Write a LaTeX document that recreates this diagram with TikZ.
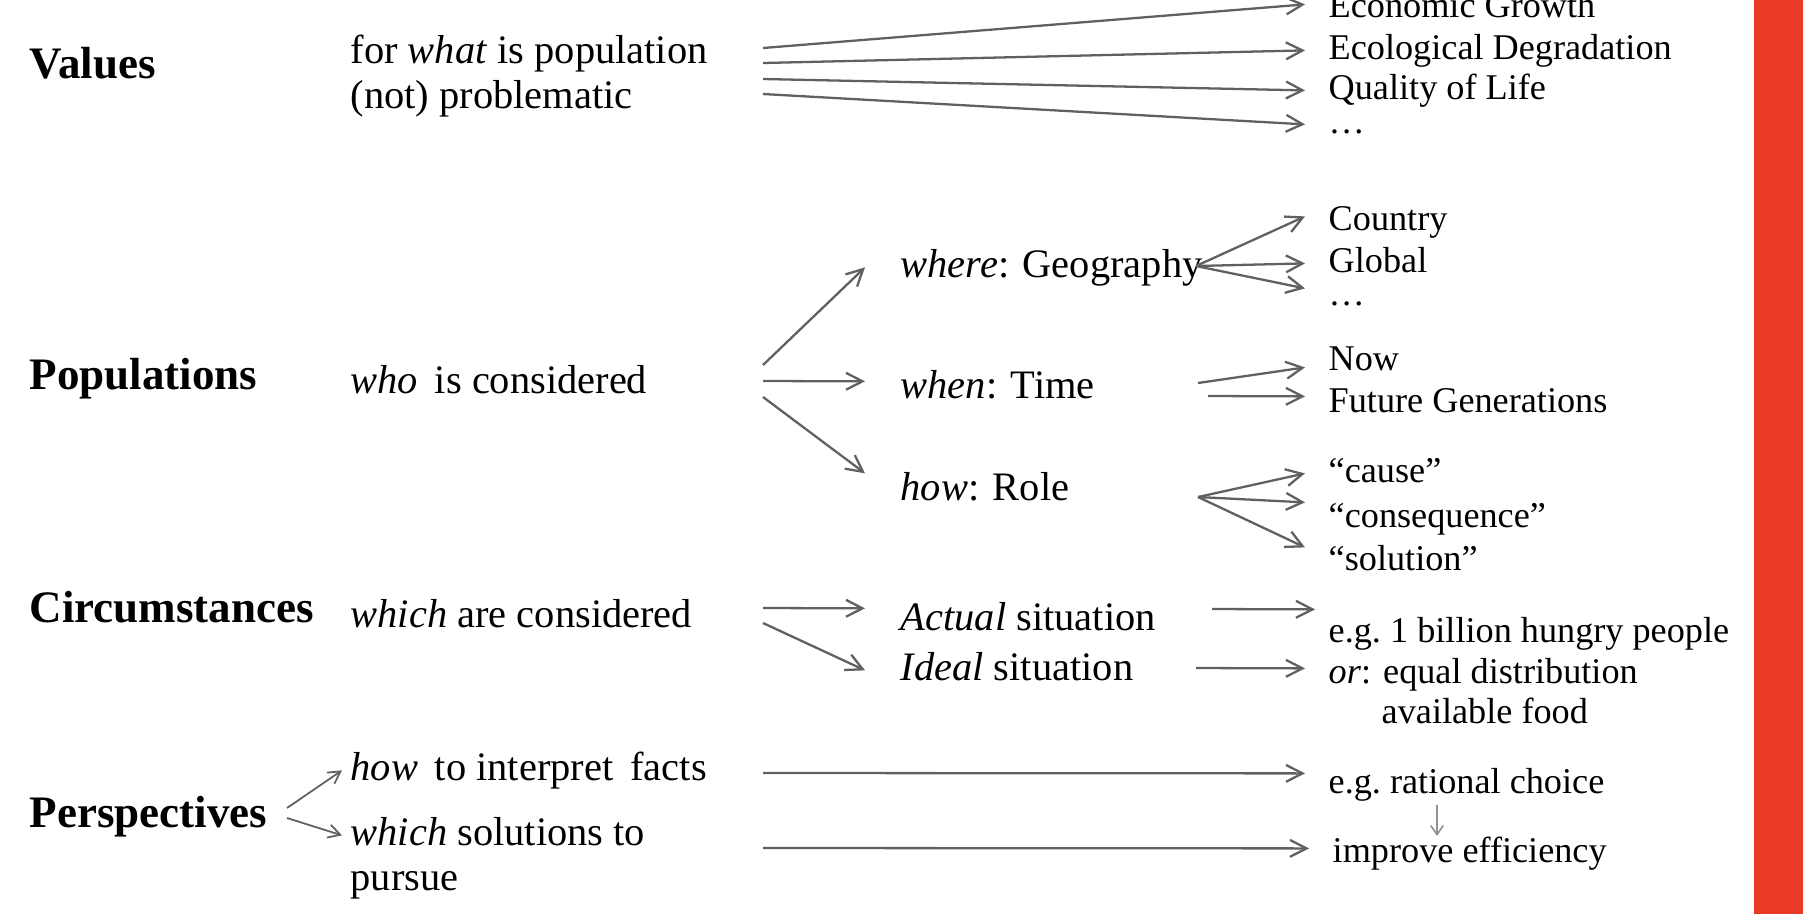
\documentclass[tikz,border=0pt]{standalone}
\usepackage{fontspec}
\setmainfont{Liberation Serif}
\usetikzlibrary{arrows.meta}
\definecolor{redbar}{RGB}{232,58,37}
\definecolor{arrgray}{RGB}{96,96,96}

\begin{document}
\begin{tikzpicture}[x=0.01cm, y=-0.01cm,
    hd/.style={anchor=base west, inner sep=0pt, font=\bfseries\fontsize{12.8}{15}\selectfont},
    lbl/.style={anchor=base west, inner ysep=0pt, inner xsep=#1, text height=8pt, text depth=2.5pt, font=\fontsize{11.5}{13}\selectfont},
    lbl/.default=0.08cm,
    res/.style={anchor=base west, inner ysep=0pt, inner xsep=0.23cm, text height=7.2pt, text depth=2.3pt, font=\fontsize{10.3}{12}\selectfont},
    arr/.style={draw=arrgray, line width=0.65pt, -{Straight Barb[length=4.7pt,width=4.8pt]}},
    sarr/.style={arr, line width=0.5pt, -{Straight Barb[length=3.4pt,width=3.8pt]}},
    tarr/.style={draw=gray!85, line width=0.45pt, -{Straight Barb[length=2.6pt,width=3.6pt]}}]
    \useasboundingbox (0,0) rectangle (1803,914);
    \fill [redbar] (1754,0) rectangle (1803,914);

    \node [hd] (vl) at (29, 78) {Values};
    \node [hd] (pp) at (29, 389) {Populations};
    \node [hd] (cr) at (29, 622) {Circumstances};
    \node [hd] (ps) at (29, 827) {Perspectives};

    \node [lbl] (w1) at (342, 63) {for \textit{what} is population};
    \node [lbl] (w2) at (342, 108) {(not) problematic};
    \node [lbl] (who) at (342, 393) {\textit{who} \,is considered};
    \node [lbl] (whc) at (342, 627) {\textit{which} are considered};
    \node [lbl] (hf) at (342, 780) {\textit{how} \,to interpret \,facts};
    \node [lbl] (ws) at (342, 845) {\textit{which} solutions to};
    \node [lbl] (pu) at (342, 890) {pursue};

    \node [lbl=0.35cm] (geo) at (865, 277) {\textit{where}: Geography};
    \node [lbl=0.35cm] (tim) at (865, 398) {\textit{when}: Time};
    \node [lbl=0.35cm] (rol) at (865, 500) {\textit{how}: Role};
    \node [lbl=0.35cm] (act) at (865, 630) {\textit{Actual} situation};
    \node [lbl=0.35cm] (idl) at (865, 680) {\textit{Ideal} situation};

    \node [res] (eg) at (1305, 17) {Economic Growth};
    \node [res] (ed) at (1305, 59) {Ecological Degradation};
    \node [res] (ql) at (1305, 99) {Quality of Life};
    \node [res] (vd) at (1305, 133) {\dots};
    \node [res] (cty) at (1305, 230) {Country};
    \node [res] (glb) at (1305, 272) {Global};
    \node [res] (gd) at (1305, 305) {\dots};
    \node [res] (now) at (1305, 370) {Now};
    \node [res] (fut) at (1305, 412) {Future Generations};
    \node [res] (cau) at (1305, 482) {``cause''};
    \node [res] (con) at (1305, 527) {``consequence''};
    \node [res] (sol) at (1305, 570) {``solution''};
    \node [res] (bil) at (1305, 642) {e.g.\ 1 billion hungry people};
    \node [res] (eq) at (1305, 683) {\textit{or}: equal distribution};
    \node [res] (af) at (1358, 723) {available food};
    \node [res] (rc) at (1305, 793) {e.g.\ rational choice};
    \node [res] (ie) at (1309, 862) {improve efficiency};

    \coordinate (v1) at (763, 48);
    \coordinate (v2) at (763, 63);
    \coordinate (v3) at (763, 79);
    \coordinate (v4) at (763, 94);
    \coordinate (p1) at (763, 365);
    \coordinate (p2) at (763, 381);
    \coordinate (p3) at (763, 397);
    \coordinate (g0) at (1196, 266);
    \coordinate (t1) at (1198, 383);
    \coordinate (t2) at (1208, 396);
    \coordinate (r0) at (1198, 497);
    \coordinate (c1) at (763, 608);
    \coordinate (c2) at (763, 623);
    \coordinate (a0) at (1212, 609);
    \coordinate (i0) at (1196, 668);
    \coordinate (s1) at (287, 808);
    \coordinate (s2) at (287, 818);
    \coordinate (f1) at (763, 773);
    \coordinate (f2) at (763, 848);
    \coordinate (dn) at (1437, 805);

    \draw [arr] (v1) to ([yshift=0.04cm]eg.west);
    \draw [arr] (v2) to (ed.west);
    \draw [arr] (v3) to (ql.west);
    \draw [arr] (v4) to (vd.west);
    \draw [arr] (p1) to (geo.west);
    \draw [arr] (p2) to ([yshift=0.07cm]tim.west);
    \draw [arr] (p3) to ([yshift=0.17cm]rol.west);
    \draw [arr] (g0) to ([yshift=0.05cm]cty.west);
    \draw [arr] (g0) to (glb.west);
    \draw [arr] (g0) to ([yshift=0.08cm]gd.west);
    \draw [arr] (t1) to ([yshift=-0.06cm]now.west);
    \draw [arr] (t2) to ([yshift=0.07cm]fut.west);
    \draw [arr] (r0) to (cau.west);
    \draw [arr] (r0) to ([yshift=0.16cm]con.west);
    \draw [arr] (r0) to ([yshift=0.14cm]sol.west);
    \draw [arr] (c1) to ([yshift=0.12cm]act.west);
    \draw [arr] (c2) to (idl.west);
    \draw [arr] (a0) to ([xshift=0.1cm,yshift=0.24cm]bil.west);
    \draw [arr] (i0) to ([yshift=0.06cm]eq.west);
    \draw [sarr] (s1) to (hf.west);
    \draw [sarr] (s2) to (ws.west);
    \draw [arr] (f1) to ([yshift=0.11cm]rc.west);
    \draw [arr] (f2) to ([yshift=0.05cm]ie.west);
    \draw [tarr] (dn) to (dn |- ie.north);
  \end{tikzpicture}
\end{document}
